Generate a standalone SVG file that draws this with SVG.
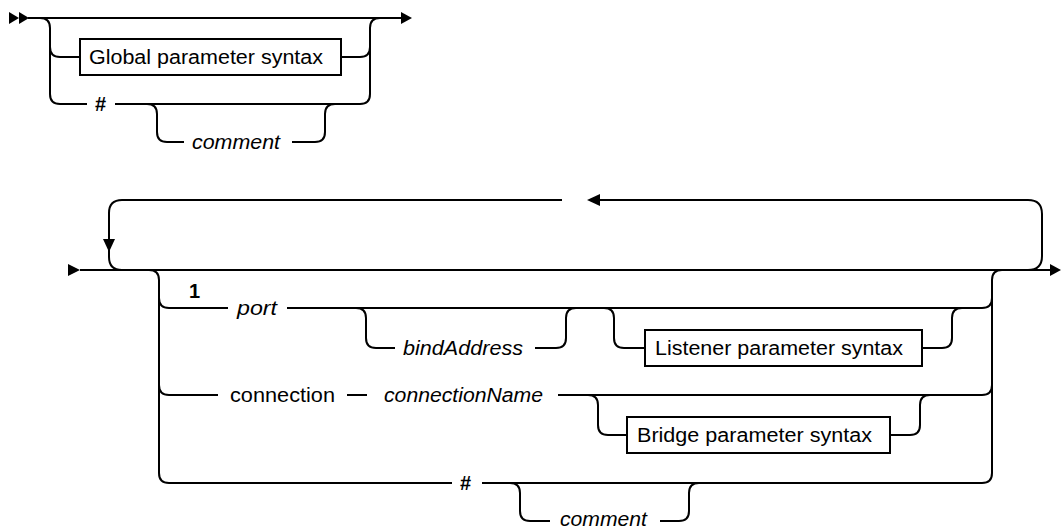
<svg xmlns="http://www.w3.org/2000/svg" width="1061" height="529" viewBox="0 0 1061 529">
<style>
.c{fill:none;stroke:#000;stroke-width:2;stroke-linejoin:round}
.ah{fill:#000;stroke:none}
.box{fill:#fff;stroke:#000;stroke-width:2}
.t{font-family:"Liberation Sans",Arial,sans-serif;font-size:20px;fill:#000}
.i{font-style:italic}
.b{font-weight:bold}
</style>
<rect width="1061" height="529" fill="#fff"/>
<g id="connectors">
  <!-- top diagram -->
  <path class="c" d="M28,18 H402"/>
  <path class="c" d="M40,18 q10,0 10,10 V94 q0,10 10,10 H87"/>
  <path class="c" d="M50,47 q0,10 10,10 H80"/>
  <path class="c" d="M341,57 H360 q10,0 10,-10"/>
  <path class="c" d="M115,104 H360 q10,0 10,-10 V28 q0,-10 10,-10"/>
  <path class="c" d="M147,104 q10,0 10,10 V132 q0,10 10,10 H184"/>
  <path class="c" d="M292,142 H315 q10,0 10,-10 V114 q0,-10 10,-10"/>
  <!-- bottom diagram main line -->
  <path class="c" d="M80,270 H1051"/>
  <!-- repeat loop -->
  <path class="c" d="M562,200 H122 q-13,0 -13,13 V257 q0,13 13,13"/>
  <path class="c" d="M600,200 H1028 q14,0 14,14 V256 q0,14 -14,14"/>
  <!-- choice verticals -->
  <path class="c" d="M149,270 q10,0 10,10 V473 q0,10 10,10 H452"/>
  <path class="c" d="M982,483 q10,0 10,-10 V280 q0,-10 10,-10"/>
  <!-- port row -->
  <path class="c" d="M159,298 q0,10 10,10 H228"/>
  <path class="c" d="M287,308 H982 q10,0 10,-10"/>
  <path class="c" d="M356,308 q10,0 10,10 V338 q0,10 10,10 H395"/>
  <path class="c" d="M535,348 H556 q10,0 10,-10 V318 q0,-10 10,-10"/>
  <path class="c" d="M604,308 q10,0 10,10 V338 q0,10 10,10 H645"/>
  <path class="c" d="M922,348 H942 q10,0 10,-10 V318 q0,-10 10,-10"/>
  <!-- connection row -->
  <path class="c" d="M159,385 q0,10 10,10 H218"/>
  <path class="c" d="M347,395 H367"/>
  <path class="c" d="M558,395 H982 q10,0 10,-10"/>
  <path class="c" d="M588,395 q10,0 10,10 V425 q0,10 10,10 H627"/>
  <path class="c" d="M890,435 H910 q10,0 10,-10 V405 q0,-10 10,-10"/>
  <!-- # row -->
  <path class="c" d="M482,483 H982"/>
  <path class="c" d="M510,483 q10,0 10,10 V511 q0,10 10,10 H550"/>
  <path class="c" d="M660,521 H679 q10,0 10,-10 V493 q0,-10 10,-10"/>
  <!-- arrowheads -->
  <polygon class="ah" points="109,252 103,239 115,239"/>
  <polygon class="ah" points="587,200 600,194 600,206"/>
</g>
<g id="top-start"><polygon class="ah" points="9,12 19,18 9,24"/><polygon class="ah" points="19,12 29,18 19,24"/></g>
<g id="top-end"><polygon class="ah" points="412,18 401,12 401,24"/></g>
<g id="global-box"><rect class="box" x="80" y="39" width="261" height="36"/><text class="t" x="89" y="64" textLength="234" lengthAdjust="spacingAndGlyphs">Global parameter syntax</text></g>
<g id="top-hash"><text class="t b" x="95" y="111">#</text></g>
<g id="top-comment"><text class="t i" x="192" y="149" textLength="88" lengthAdjust="spacingAndGlyphs">comment</text></g>
<g id="bottom-start"><polygon class="ah" points="80,270 68,264 68,276"/></g>
<g id="bottom-end"><polygon class="ah" points="1061,270 1050,264 1050,276"/></g>
<g id="label-1"><text class="t b" x="189" y="298">1</text></g>
<g id="port"><text class="t i" x="237" y="315" textLength="40" lengthAdjust="spacingAndGlyphs">port</text></g>
<g id="bindAddress"><text class="t i" x="403" y="355" textLength="120" lengthAdjust="spacingAndGlyphs">bindAddress</text></g>
<g id="listener-box"><rect class="box" x="645" y="330" width="277" height="36"/><text class="t" x="655" y="355" textLength="248" lengthAdjust="spacingAndGlyphs">Listener parameter syntax</text></g>
<g id="connection"><text class="t" x="230" y="402" textLength="105" lengthAdjust="spacingAndGlyphs">connection</text></g>
<g id="connectionName"><text class="t i" x="384" y="402" textLength="159" lengthAdjust="spacingAndGlyphs">connectionName</text></g>
<g id="bridge-box"><rect class="box" x="627" y="417" width="263" height="36"/><text class="t" x="637" y="442" textLength="235" lengthAdjust="spacingAndGlyphs">Bridge parameter syntax</text></g>
<g id="hash"><text class="t b" x="460" y="490">#</text></g>
<g id="comment"><text class="t i" x="560" y="526" textLength="87" lengthAdjust="spacingAndGlyphs">comment</text></g>
</svg>
